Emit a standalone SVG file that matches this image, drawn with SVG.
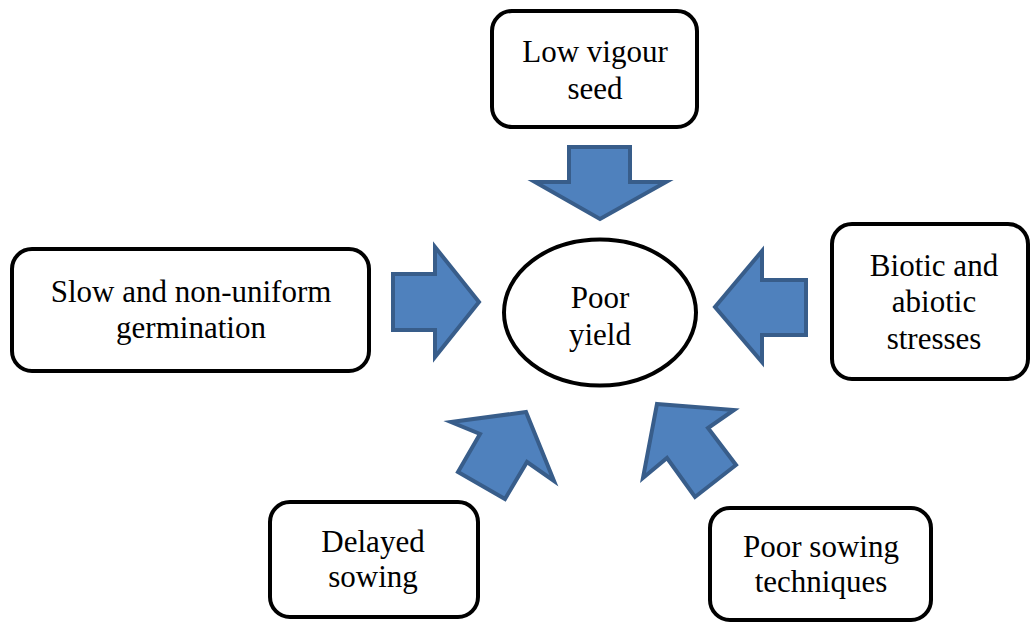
<svg xmlns="http://www.w3.org/2000/svg" width="1030" height="624" viewBox="0 0 1030 624">
<style>
.box{fill:#fff;stroke:#000;stroke-width:4}
.arr{fill:#4f81bd;stroke:#385d8a;stroke-width:4;stroke-linejoin:miter}
.t{font-family:"Liberation Serif","DejaVu Serif",serif;font-size:31px;fill:#000;text-anchor:middle}
</style>
<rect width="1030" height="624" fill="#fff"/>
<g id="connectors">
<polygon class="arr" points="569,147 630,147 630,182 666,182 600,219 535,182 569,182"/>
<polygon class="arr" points="393,274 435,274 435,247 479,302 435,357 435,330 393,330"/>
<polygon class="arr" points="806,280 762,280 762,251 715,307 762,362 762,335 806,335"/>
<polygon class="arr" points="526,412 451,422 480,434 458,472 505,499 527,462 554,481"/>
<polygon class="arr" points="657,404 734,410 708,428 736,465 695,497 667,458 643,478"/>
</g>
<g id="node-center">
<ellipse class="box" cx="600" cy="312.5" rx="96" ry="73"/>
<text class="t" x="600" y="308">Poor</text>
<text class="t" x="600" y="345">yield</text>
</g>
<g id="node-low-vigour">
<rect class="box" x="492" y="11" width="205" height="116" rx="20"/>
<text class="t" x="595" y="62">Low vigour</text>
<text class="t" x="595" y="99">seed</text>
</g>
<g id="node-slow">
<rect class="box" x="12" y="249" width="357" height="122" rx="20"/>
<text class="t" x="191" y="302">Slow and non-uniform</text>
<text class="t" x="191" y="338">germination</text>
</g>
<g id="node-biotic">
<rect class="box" x="832" y="224" width="196" height="155" rx="20"/>
<text class="t" x="934" y="276">Biotic and</text>
<text class="t" x="934" y="312">abiotic</text>
<text class="t" x="934" y="349">stresses</text>
</g>
<g id="node-delayed">
<rect class="box" x="270" y="502" width="208" height="115" rx="20"/>
<text class="t" x="373" y="552">Delayed</text>
<text class="t" x="373" y="587">sowing</text>
</g>
<g id="node-poor-sowing">
<rect class="box" x="710" y="508" width="221" height="112" rx="20"/>
<text class="t" x="821" y="557">Poor sowing</text>
<text class="t" x="821" y="592">techniques</text>
</g>
</svg>
